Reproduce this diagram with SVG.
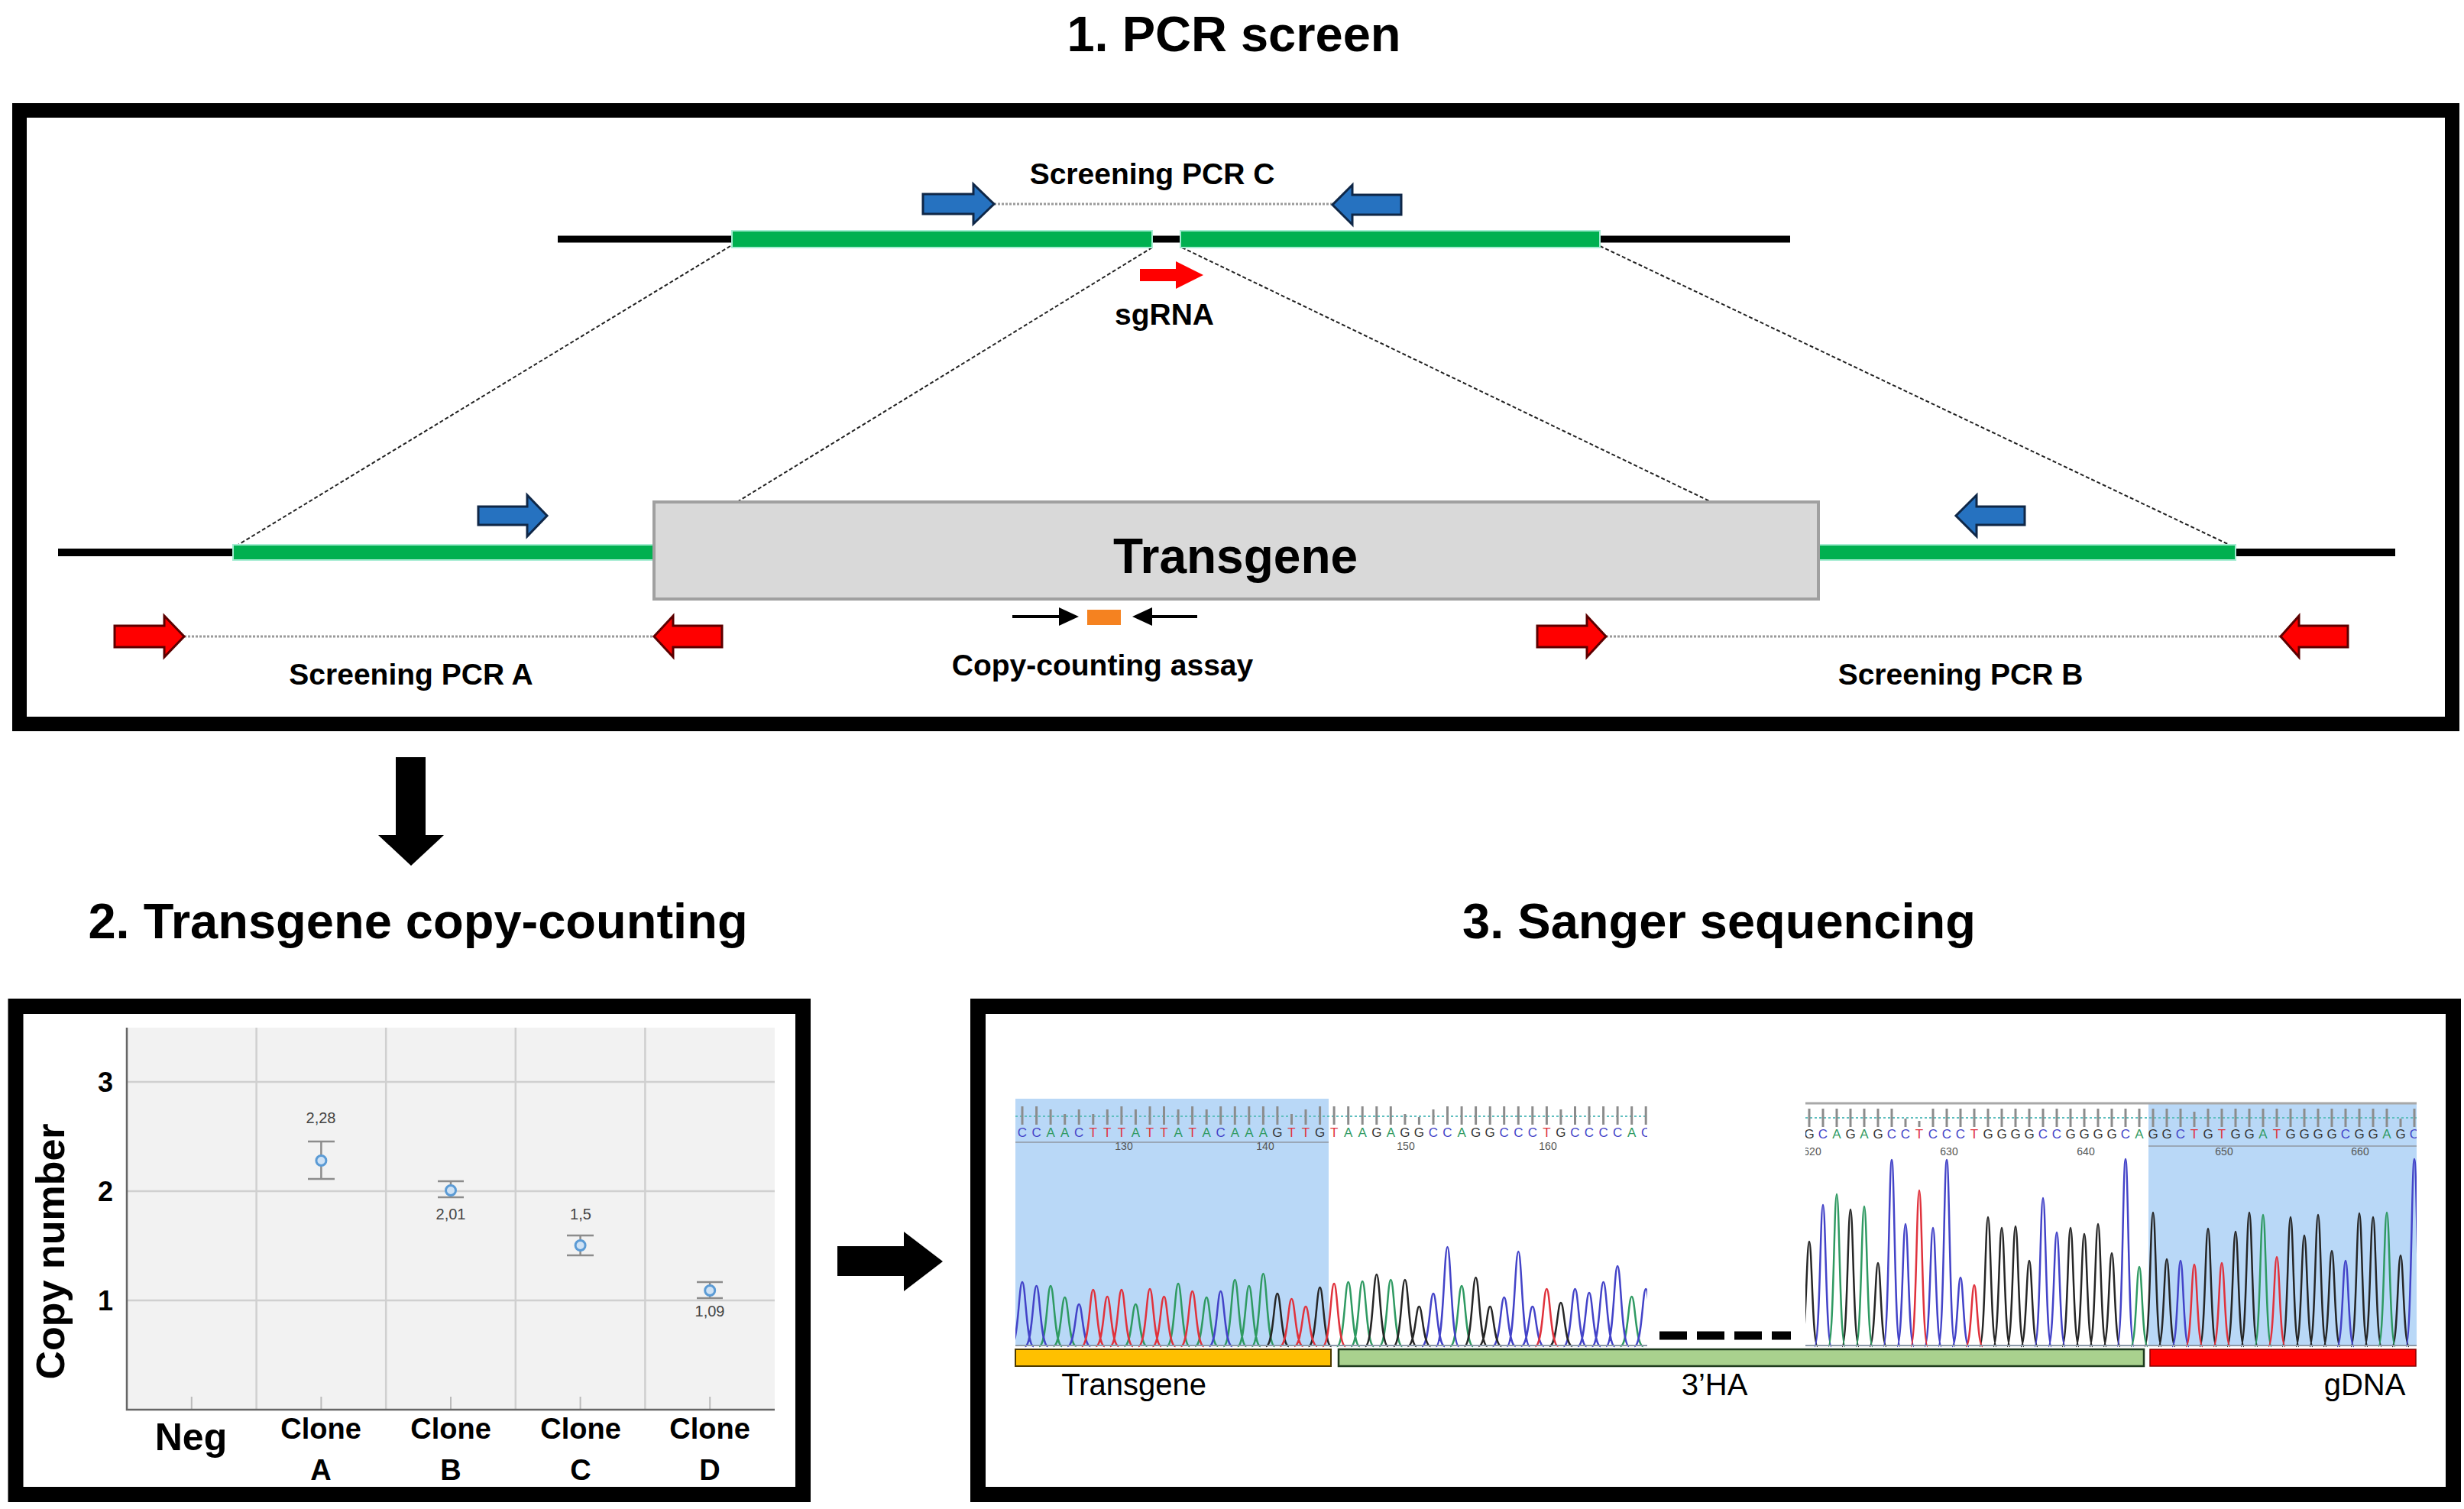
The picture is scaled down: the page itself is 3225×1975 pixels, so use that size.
<svg xmlns="http://www.w3.org/2000/svg" width="3225" height="1975" viewBox="0 0 3225 1975">
<style>
text{font-family:"Liberation Sans",Arial,sans-serif}
.title{font-size:65px;font-weight:bold;text-anchor:middle}
.lbl{font-size:39px;font-weight:bold;text-anchor:middle}
.frame{fill:none;stroke:#000}
.blue{fill:#2672C0;stroke:#0f2747;stroke-width:3}
.red{fill:#FF0000;stroke:#5c0000;stroke-width:3}
.dot{stroke:#9a9a9a;stroke-width:3;stroke-dasharray:3 2;fill:none}
.diag{stroke:#222;stroke-width:2;stroke-dasharray:5 3;fill:none}
.green{fill:#00B050;stroke:#a5ecd2;stroke-width:2}
.grid{stroke:#d0d0d0;stroke-width:2.5;fill:none}
.val{font-size:20px;fill:#444;text-anchor:middle}
.cat{font-size:38px;font-weight:bold;text-anchor:middle}
.ytk{font-size:36px;font-weight:bold;text-anchor:middle}
.trA{fill:none;stroke:#2f9a62;stroke-width:2.5}
.trC{fill:none;stroke:#4343c8;stroke-width:2.5}
.trG{fill:none;stroke:#262626;stroke-width:2.5}
.trT{fill:none;stroke:#e0323c;stroke-width:2.5}
.sA{fill:#2f9a62}.sC{fill:#4343c8}.sG{fill:#333}.sT{fill:#e0323c}
.seq{font-size:17px;text-anchor:middle}
.num{font-size:14px;fill:#555;text-anchor:middle}
.tick{stroke:#8c8c8c;stroke-width:3;fill:none}
.tdash{stroke:#5fbfbf;stroke-width:2;stroke-dasharray:3 3;fill:none}
.blbl{font-size:40px;text-anchor:middle}
</style>
<defs>
<clipPath id="clipL"><rect x="1329" y="1430" width="827" height="340"/></clipPath>
<clipPath id="clipR"><rect x="2363" y="1430" width="800" height="340"/></clipPath>
</defs>
<rect width="3225" height="1975" fill="#fff"/>

<!-- Titles -->
<text class="title" x="1615" y="67">1. PCR screen</text>
<text class="title" x="547" y="1228">2. Transgene copy-counting</text>
<text class="title" x="2250" y="1228">3. Sanger sequencing</text>

<!-- Panel frames -->
<rect id="panel1" class="frame" x="25.5" y="144.5" width="3184" height="803" stroke-width="19"/>
<rect id="panel2" class="frame" x="20.5" y="1317" width="1030.5" height="639" stroke-width="20"/>
<rect id="panel3" class="frame" x="1280" y="1317" width="1931" height="639" stroke-width="20"/>

<!-- Connectors -->
<g id="connectors">
<path class="diag" d="M956,322L310,714M1508,324L963,658M1547,324L2242,658M2094,322L2920,714"/>
<path class="dot" d="M1301,267H1744M241,833H856M2102,833H2985"/>
<polygon points="518,991 557,991 557,1093 581,1093 538,1133 495,1093 518,1093" fill="#000"/>
<polygon points="1096,1631 1183,1631 1183,1612 1234,1651 1183,1690 1183,1670 1096,1670" fill="#000"/>
</g>

<!-- Upper locus -->
<g id="locus-wt">
<line x1="730" y1="313" x2="2343" y2="313" stroke="#000" stroke-width="9"/>
<rect class="green" x="958" y="302" width="550" height="22"/>
<rect class="green" x="1545" y="302" width="549" height="22"/>
</g>

<!-- Lower locus -->
<g id="locus-ki">
<line x1="76" y1="723" x2="3135" y2="723" stroke="#000" stroke-width="10"/>
<rect class="green" x="305" y="713" width="551" height="20"/>
<rect class="green" x="2380" y="713" width="546" height="20"/>
</g>

<g id="transgene">
<rect x="856" y="657" width="1524" height="127" fill="#d9d9d9" stroke="#a0a0a0" stroke-width="4"/>
<text x="1617" y="750" font-size="64" font-weight="bold" text-anchor="middle">Transgene</text>
</g>

<g id="pcrC">
<path class="blue" d="M1208,254H1274V241L1301,267L1274,293V280H1208Z"/>
<path class="blue" d="M1834,255H1770V242L1744,268L1770,294V281H1834Z"/>
<text class="lbl" x="1508" y="241">Screening PCR C</text>
</g>

<g id="sgRNA">
<path d="M1492,352H1539V342L1575,360L1539,378V368H1492Z" fill="#FF0000"/>
<text class="lbl" x="1524" y="425">sgRNA</text>
</g>

<g id="primers-inner">
<path class="blue" d="M626,663H690V648L716,675L690,702V687H626Z"/>
<path class="blue" d="M2650,663H2587V648L2560,675L2587,702V687H2650Z"/>
</g>

<g id="pcrA">
<path class="red" d="M150,819H215V806L241,833L215,860V847H150Z"/>
<path class="red" d="M945,819H881V806L856,833L881,860V847H945Z"/>
<text class="lbl" x="538" y="896">Screening PCR A</text>
</g>

<g id="pcrB">
<path class="red" d="M2012,819H2077V806L2102,833L2077,860V847H2012Z"/>
<path class="red" d="M3073,819H3009V806L2985,833L3009,860V847H3073Z"/>
<text class="lbl" x="2566" y="896">Screening PCR B</text>
</g>

<g id="copy-assay">
<path d="M1325,807H1392M1567,807H1502" stroke="#000" stroke-width="4"/>
<polygon points="1386,795 1412,807 1386,819" fill="#000"/>
<polygon points="1508,795 1482,807 1508,819" fill="#000"/>
<rect x="1423" y="798" width="44" height="20" fill="#F58220"/>
<text class="lbl" x="1443" y="884">Copy-counting assay</text>
</g>

<!-- Panel 2 chart -->
<g id="chart">
<rect x="166" y="1345" width="848" height="500" fill="#f2f2f2"/>
<path class="grid" d="M166,1416H1014M166,1559H1014M166,1702H1014M335.6,1345V1845M505.2,1345V1845M674.8,1345V1845M844.4,1345V1845"/>
<path d="M250.8,1828V1845M420.4,1828V1845M590,1828V1845M759.6,1828V1845M929.2,1828V1845" stroke="#bbb" stroke-width="2"/>
<path d="M166,1345V1845H1014" stroke="#666" stroke-width="2.5" fill="none"/>
<path d="M420.4,1494V1543M403,1494H438M403,1543H438M590,1546V1567M573,1546H607M573,1567H607M759.6,1617V1643M742,1617H777M742,1643H777M929.2,1678V1699M912,1678H946M912,1699H946" stroke="#8c8c8c" stroke-width="2.5"/>
<g fill="#cfe2f5" stroke="#5b9bd5" stroke-width="3">
<circle cx="420.4" cy="1519" r="6.5"/>
<circle cx="590" cy="1558" r="6.5"/>
<circle cx="759.6" cy="1630" r="6.5"/>
<circle cx="929.2" cy="1689" r="6.5"/>
</g>
<text class="val" x="420" y="1470">2,28</text>
<text class="val" x="590" y="1596">2,01</text>
<text class="val" x="760" y="1596">1,5</text>
<text class="val" x="929" y="1723">1,09</text>
<text class="ytk" x="138" y="1429">3</text>
<text class="ytk" x="138" y="1572">2</text>
<text class="ytk" x="138" y="1715">1</text>
<text transform="translate(84,1638) rotate(-90)" font-size="52" font-weight="bold" text-anchor="middle">Copy number</text>
<text x="250" y="1898" font-size="50" font-weight="bold" text-anchor="middle">Neg</text>
<text class="cat" x="420" y="1883">Clone</text>
<text class="cat" x="590" y="1883">Clone</text>
<text class="cat" x="760" y="1883">Clone</text>
<text class="cat" x="929" y="1883">Clone</text>
<text class="cat" x="420" y="1937">A</text>
<text class="cat" x="590" y="1937">B</text>
<text class="cat" x="760" y="1937">C</text>
<text class="cat" x="929" y="1937">D</text>
</g>

<!-- Panel 3 chromatogram -->
<g id="chromatogram-left" clip-path="url(#clipL)">
<rect x="1329" y="1438" width="410" height="324" fill="#b9d8f7"/>
<path class="tdash" d="M1329,1461H2156"/>
<path class="tick" d="M1338,1448v24M1356.6,1448v24M1375.1,1452v20M1393.7,1458v14M1412.2,1452v20M1430.8,1458v14M1449.3,1452v20M1467.9,1448v24M1486.4,1452v20M1505,1448v24M1523.5,1448v24M1542.1,1452v20M1560.6,1448v24M1579.2,1452v20M1597.7,1448v24M1616.3,1448v24M1634.8,1448v24M1653.4,1448v24M1671.9,1448v24M1690.5,1458v14M1709,1452v20M1727.6,1448v24M1746.1,1448v24M1764.7,1448v24M1783.2,1448v24M1801.8,1448v24M1820.3,1448v24M1838.9,1458v14M1857.4,1462v10M1876,1452v20M1894.5,1448v24M1913.1,1448v24M1931.6,1448v24M1950.2,1448v24M1968.7,1448v24M1987.3,1448v24M2005.8,1448v24M2024.4,1448v24M2042.9,1452v20M2061.5,1448v24M2080,1448v24M2098.6,1448v24M2117.1,1448v24M2135.7,1448v24M2154.2,1448v24"/>
<text class="seq" x="1338 1356.6 1375.1 1393.7 1412.2 1430.8 1449.3 1467.9 1486.4 1505 1523.5 1542.1 1560.6 1579.2 1597.7 1616.3 1634.8 1653.4 1671.9 1690.5 1709 1727.6 1746.1 1764.7 1783.2 1801.8 1820.3 1838.9 1857.4 1876 1894.5 1913.1 1931.6 1950.2 1968.7 1987.3 2005.8 2024.4 2042.9 2061.5 2080 2098.6 2117.1 2135.7 2154.2" y="1488"><tspan class="sC">CC</tspan><tspan class="sA">AA</tspan><tspan class="sC">C</tspan><tspan class="sT">TTT</tspan><tspan class="sA">A</tspan><tspan class="sT">TT</tspan><tspan class="sA">A</tspan><tspan class="sT">T</tspan><tspan class="sA">A</tspan><tspan class="sC">C</tspan><tspan class="sA">AAA</tspan><tspan class="sG">G</tspan><tspan class="sT">TT</tspan><tspan class="sG">G</tspan><tspan class="sT">T</tspan><tspan class="sA">AA</tspan><tspan class="sG">G</tspan><tspan class="sA">A</tspan><tspan class="sG">GG</tspan><tspan class="sC">CC</tspan><tspan class="sA">A</tspan><tspan class="sG">GG</tspan><tspan class="sC">CCC</tspan><tspan class="sT">T</tspan><tspan class="sG">G</tspan><tspan class="sC">CCCC</tspan><tspan class="sA">A</tspan><tspan class="sC">C</tspan></text>
<path d="M1329,1495H1739" stroke="#9aa8b8" stroke-width="2"/>
<text class="num" x="1471" y="1505">130</text>
<text class="num" x="1656" y="1505">140</text>
<text class="num" x="1840" y="1505">150</text>
<text class="num" x="2026" y="1505">160</text>
<path class="trA" d="M1360.1,1762c10,0 10.5,-79 15,-79s5,79 15,79M1378.7,1762c10,0 10.5,-64 15,-64s5,64 15,64M1471.4,1762c10,0 10.5,-55 15,-55s5,55 15,55M1527.1,1762c10,0 10.5,-82 15,-82s5,82 15,82M1564.2,1762c10,0 10.5,-64 15,-64s5,64 15,64M1601.3,1762c10,0 10.5,-87 15,-87s5,87 15,87M1619.8,1762c10,0 10.5,-79 15,-79s5,79 15,79M1638.4,1762c10,0 10.5,-95 15,-95s5,95 15,95M1749.7,1762c10,0 10.5,-84 15,-84s5,84 15,84M1768.2,1762c10,0 10.5,-85 15,-85s5,85 15,85M1805.3,1762c10,0 10.5,-87 15,-87s5,87 15,87M1898.1,1762c10,0 10.5,-79 15,-79s5,79 15,79M2120.7,1762c10,0 10.5,-65 15,-65s5,65 15,65"/>
<path class="trC" d="M1323,1762c10,0 10.5,-84 15,-84s5,84 15,84M1341.6,1762c10,0 10.5,-79 15,-79s5,79 15,79M1397.2,1762c10,0 10.5,-55 15,-55s5,55 15,55M1582.7,1762c10,0 10.5,-72 15,-72s5,72 15,72M1861,1762c10,0 10.5,-69 15,-69s5,69 15,69M1879.5,1762c10,0 10.5,-130 15,-130s5,130 15,130M1953.7,1762c10,0 10.5,-64 15,-64s5,64 15,64M1972.3,1762c10,0 10.5,-124 15,-124s5,124 15,124M1990.8,1762c10,0 10.5,-52 15,-52s5,52 15,52M2046.5,1762c10,0 10.5,-75 15,-75s5,75 15,75M2065,1762c10,0 10.5,-70 15,-70s5,70 15,70M2083.6,1762c10,0 10.5,-84 15,-84s5,84 15,84M2102.1,1762c10,0 10.5,-105 15,-105s5,105 15,105M2139.2,1762c10,0 10.5,-75 15,-75s5,75 15,75"/>
<path class="trG" d="M1656.9,1762c10,0 10.5,-69 15,-69s5,69 15,69M1712.6,1762c10,0 10.5,-77 15,-77s5,77 15,77M1786.8,1762c10,0 10.5,-94 15,-94s5,94 15,94M1823.9,1762c10,0 10.5,-87 15,-87s5,87 15,87M1842.4,1762c10,0 10.5,-52 15,-52s5,52 15,52M1916.6,1762c10,0 10.5,-90 15,-90s5,90 15,90M1935.2,1762c10,0 10.5,-52 15,-52s5,52 15,52M2027.9,1762c10,0 10.5,-57 15,-57s5,57 15,57"/>
<path class="trT" d="M1415.8,1762c10,0 10.5,-74 15,-74s5,74 15,74M1434.3,1762c10,0 10.5,-65 15,-65s5,65 15,65M1452.9,1762c10,0 10.5,-74 15,-74s5,74 15,74M1490,1762c10,0 10.5,-75 15,-75s5,75 15,75M1508.5,1762c10,0 10.5,-65 15,-65s5,65 15,65M1545.6,1762c10,0 10.5,-72 15,-72s5,72 15,72M1675.5,1762c10,0 10.5,-62 15,-62s5,62 15,62M1694,1762c10,0 10.5,-52 15,-52s5,52 15,52M1731.1,1762c10,0 10.5,-82 15,-82s5,82 15,82M2009.4,1762c10,0 10.5,-75 15,-75s5,75 15,75"/>
<path d="M1329,1761H2156" stroke="#8a98a8" stroke-width="2"/>
</g>

<g id="chromatogram-right" clip-path="url(#clipR)">
<rect x="2812" y="1445" width="351" height="317" fill="#b9d8f7"/>
<path d="M2363,1444H3163" stroke="#a8a8a8" stroke-width="3"/>
<path class="tdash" d="M2363,1463H3163"/>
<path class="tick" d="M2368,1451v24M2386,1451v24M2404,1451v24M2422,1451v24M2440,1451v24M2458,1451v24M2476,1451v24M2494,1464v11M2512,1467v8M2530,1451v24M2548,1451v24M2566,1451v24M2584,1451v24M2602,1451v24M2620,1451v24M2638,1451v24M2656,1451v24M2674,1451v24M2692,1451v24M2710,1451v24M2728,1451v24M2746,1451v24M2764,1451v24M2782,1451v24M2800,1451v24M2818,1451v24M2836,1451v24M2854,1451v24M2872,1455v20M2890,1451v24M2908,1451v24M2926,1451v24M2944,1451v24M2962,1451v24M2980,1451v24M2998,1451v24M3016,1451v24M3034,1451v24M3052,1451v24M3070,1451v24M3088,1451v24M3106,1451v24M3124,1451v24M3142,1464v11M3160,1451v24"/>
<text class="seq" x="2368 2386 2404 2422 2440 2458 2476 2494 2512 2530 2548 2566 2584 2602 2620 2638 2656 2674 2692 2710 2728 2746 2764 2782 2800 2818 2836 2854 2872 2890 2908 2926 2944 2962 2980 2998 3016 3034 3052 3070 3088 3106 3124 3142 3160" y="1490"><tspan class="sG">G</tspan><tspan class="sC">C</tspan><tspan class="sA">A</tspan><tspan class="sG">G</tspan><tspan class="sA">A</tspan><tspan class="sG">G</tspan><tspan class="sC">CC</tspan><tspan class="sT">T</tspan><tspan class="sC">CCC</tspan><tspan class="sT">T</tspan><tspan class="sG">GGGG</tspan><tspan class="sC">CC</tspan><tspan class="sG">GGGG</tspan><tspan class="sC">C</tspan><tspan class="sA">A</tspan><tspan class="sG">GG</tspan><tspan class="sC">C</tspan><tspan class="sT">T</tspan><tspan class="sG">G</tspan><tspan class="sT">T</tspan><tspan class="sG">GG</tspan><tspan class="sA">A</tspan><tspan class="sT">T</tspan><tspan class="sG">GGGG</tspan><tspan class="sC">C</tspan><tspan class="sG">GG</tspan><tspan class="sA">A</tspan><tspan class="sG">G</tspan><tspan class="sC">C</tspan></text>
<path d="M2812,1500H3163" stroke="#9aa8b8" stroke-width="2"/>
<text class="num" x="2372" y="1512">620</text>
<text class="num" x="2551" y="1512">630</text>
<text class="num" x="2730" y="1512">640</text>
<text class="num" x="2911" y="1512">650</text>
<text class="num" x="3089" y="1512">660</text>
<path class="trG" d="M2357,1762c7,0 7.5,-137 11,-137s4,137 11,137M2411,1762c7,0 7.5,-179 11,-179s4,179 11,179M2447,1762c7,0 7.5,-109 11,-109s4,109 11,109M2591,1762c7,0 7.5,-169 11,-169s4,169 11,169M2609,1762c7,0 7.5,-155 11,-155s4,155 11,155M2627,1762c7,0 7.5,-157 11,-157s4,157 11,157M2645,1762c7,0 7.5,-112 11,-112s4,112 11,112M2699,1762c7,0 7.5,-155 11,-155s4,155 11,155M2717,1762c7,0 7.5,-147 11,-147s4,147 11,147M2735,1762c7,0 7.5,-160 11,-160s4,160 11,160M2753,1762c7,0 7.5,-122 11,-122s4,122 11,122M2807,1762c7,0 7.5,-175 11,-175s4,175 11,175M2825,1762c7,0 7.5,-114 11,-114s4,114 11,114M2879,1762c7,0 7.5,-154 11,-154s4,154 11,154M2915,1762c7,0 7.5,-150 11,-150s4,150 11,150M2933,1762c7,0 7.5,-175 11,-175s4,175 11,175M2987,1762c7,0 7.5,-169 11,-169s4,169 11,169M3005,1762c7,0 7.5,-145 11,-145s4,145 11,145M3023,1762c7,0 7.5,-172 11,-172s4,172 11,172M3041,1762c7,0 7.5,-125 11,-125s4,125 11,125M3077,1762c7,0 7.5,-174 11,-174s4,174 11,174M3095,1762c7,0 7.5,-169 11,-169s4,169 11,169M3131,1762c7,0 7.5,-119 11,-119s4,119 11,119"/>
<path class="trC" d="M2375,1762c7,0 7.5,-185 11,-185s4,185 11,185M2465,1762c7,0 7.5,-244 11,-244s4,244 11,244M2483,1762c7,0 7.5,-160 11,-160s4,160 11,160M2519,1762c7,0 7.5,-155 11,-155s4,155 11,155M2537,1762c7,0 7.5,-244 11,-244s4,244 11,244M2555,1762c7,0 7.5,-90 11,-90s4,90 11,90M2663,1762c7,0 7.5,-194 11,-194s4,194 11,194M2681,1762c7,0 7.5,-149 11,-149s4,149 11,149M2771,1762c7,0 7.5,-245 11,-245s4,245 11,245M2843,1762c7,0 7.5,-112 11,-112s4,112 11,112M3059,1762c7,0 7.5,-112 11,-112s4,112 11,112M3149,1762c7,0 7.5,-245 11,-245s4,245 11,245"/>
<path class="trA" d="M2393,1762c7,0 7.5,-199 11,-199s4,199 11,199M2429,1762c7,0 7.5,-183 11,-183s4,183 11,183M2789,1762c7,0 7.5,-104 11,-104s4,104 11,104M2951,1762c7,0 7.5,-172 11,-172s4,172 11,172M3113,1762c7,0 7.5,-175 11,-175s4,175 11,175"/>
<path class="trT" d="M2501,1762c7,0 7.5,-204 11,-204s4,204 11,204M2573,1762c7,0 7.5,-80 11,-80s4,80 11,80M2861,1762c7,0 7.5,-107 11,-107s4,107 11,107M2897,1762c7,0 7.5,-109 11,-109s4,109 11,109M2969,1762c7,0 7.5,-117 11,-117s4,117 11,117"/>
<path d="M2363,1761H3163" stroke="#8a98a8" stroke-width="2"/>
</g>

<g id="gap-dash">
<path d="M2172,1748H2344" stroke="#000" stroke-width="11" stroke-dasharray="36 13"/>
</g>

<g id="region-bars">
<rect x="1329" y="1766" width="413" height="22" fill="#FFC000" stroke="#4d3a00" stroke-width="2"/>
<rect x="1752" y="1766" width="1054" height="22" fill="#A9D18E" stroke="#1e3b1e" stroke-width="2.5"/>
<rect x="2814" y="1766" width="348" height="22" fill="#FF0000" stroke="#8b0000" stroke-width="1.5"/>
<text class="blbl" x="1484" y="1826">Transgene</text>
<text class="blbl" x="2244" y="1826">3’HA</text>
<text class="blbl" x="3095" y="1826">gDNA</text>
</g>
</svg>
